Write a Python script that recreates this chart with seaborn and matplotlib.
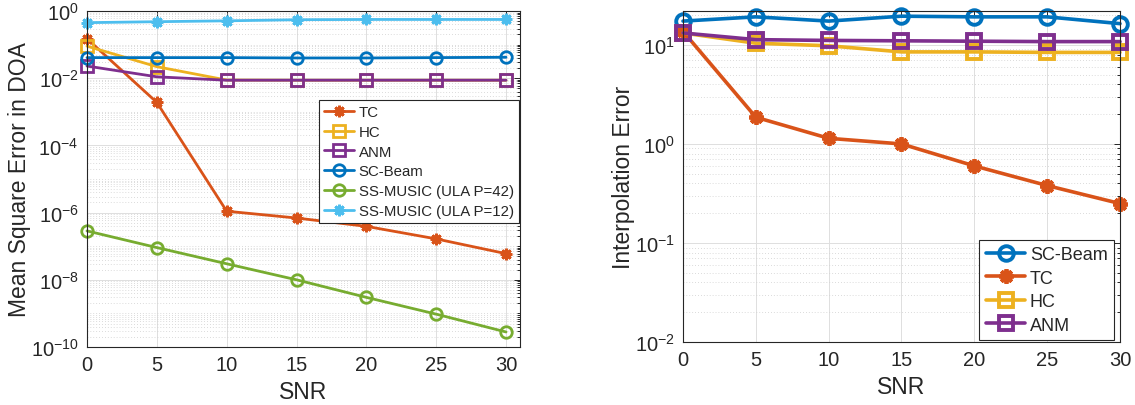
import numpy as np
import pandas as pd
import matplotlib
matplotlib.use("Agg")
import matplotlib.pyplot as plt
from matplotlib.ticker import LogLocator, NullFormatter, FixedLocator
import seaborn as sns

# ---- data -------------------------------------------------------------
snr = [0, 5, 10, 15, 20, 25, 30]

# DOA mean square error
tc_doa = [0.15, 1.9e-3, 1.1e-6, 6.9e-7, 3.9e-7, 1.65e-7, 6.0e-8]
hc_doa = [0.09, 0.022, 0.0088, 0.0087, 0.0087, 0.0087, 0.0087]
anm_doa = [0.023, 0.011, 0.0087, 0.0087, 0.0087, 0.0087, 0.0087]
scbeam_doa = [0.041, 0.041, 0.041, 0.040, 0.040, 0.041, 0.042]
music42_doa = [2.85e-7, 9.1e-8, 3.0e-8, 1.0e-8, 3.0e-9, 9.5e-10, 2.8e-10]
music12_doa = [0.45, 0.48, 0.51, 0.55, 0.56, 0.56, 0.56]

# interpolation error
scbeam_int = [17.4, 19.2, 17.4, 19.5, 19.2, 19.2, 16.4]
tc_int = [13.7, 1.86, 1.14, 1.0, 0.6, 0.38, 0.25]
hc_int = [13.2, 10.4, 9.8, 8.5, 8.5, 8.4, 8.4]
anm_int = [13.2, 11.3, 11.1, 11.0, 10.9, 10.8, 10.8]

# ---- style ------------------------------------------------------------
sns.set_style("white")
plt.rcParams["font.family"] = ["Liberation Sans", "DejaVu Sans"]
plt.rcParams["mathtext.fontset"] = "custom"
plt.rcParams["mathtext.rm"] = "Liberation Sans"
plt.rcParams["mathtext.it"] = "Liberation Sans:italic"
plt.rcParams["mathtext.bf"] = "Liberation Sans:bold"

BLUE = "#0072BD"
ORANGE = "#D95319"
YELLOW = "#EDB120"
PURPLE = "#7E2F8E"
GREEN = "#77AC30"
CYAN = "#4DBEEE"
DARK = "#262626"
ASTERISK = (8, 2, 0)

fig = plt.figure(figsize=(11.35, 4.06), dpi=100)
ax1 = fig.add_axes([87 / 1135, 1 - 348 / 406, 433 / 1135, 336 / 406])
ax2 = fig.add_axes([683 / 1135, 1 - 343 / 406, 437 / 1135, 331 / 406])


def draw(ax, y, color, marker, label, lw, ms, mew):
    df = pd.DataFrame({"SNR": snr, "val": y})
    sns.lineplot(data=df, x="SNR", y="val", ax=ax, color=color, marker=marker,
                 markersize=ms, markeredgewidth=mew, markerfacecolor="none",
                 markeredgecolor=color, linewidth=lw, label=label, clip_on=False)


# left panel
lw1, ms1, mew1 = 2.0, 8.3, 2.0
draw(ax1, tc_doa, ORANGE, ASTERISK, "TC", lw1, ms1, mew1)
draw(ax1, hc_doa, YELLOW, "s", "HC", lw1, ms1, mew1)
draw(ax1, anm_doa, PURPLE, "s", "ANM", lw1, ms1, mew1)
draw(ax1, scbeam_doa, BLUE, "o", "SC-Beam", lw1, ms1, mew1)
draw(ax1, music42_doa, GREEN, "o", "SS-MUSIC (ULA P=42)", lw1, ms1, mew1)
draw(ax1, music12_doa, CYAN, ASTERISK, "SS-MUSIC (ULA P=12)", lw1, ms1, mew1)

# right panel
lw2, ms2, mew2 = 2.6, 10.5, 2.8
draw(ax2, scbeam_int, BLUE, "o", "SC-Beam", lw2, ms2, mew2)
draw(ax2, tc_int, ORANGE, ASTERISK, "TC", lw2, ms2, mew2)
draw(ax2, hc_int, YELLOW, "s", "HC", lw2, ms2, mew2)
draw(ax2, anm_int, PURPLE, "s", "ANM", lw2, ms2, mew2)

for ax, ylim, majors in [
    (ax1, (1e-10, 1.0), [10.0 ** k for k in range(-10, 1, 2)]),
    (ax2, (1e-2, 22.0), [10.0 ** k for k in range(-2, 2)]),
]:
    ax.set_yscale("log")
    ax.set_ylim(*ylim)
    ax.yaxis.set_major_locator(FixedLocator(majors))
    ax.yaxis.set_minor_locator(LogLocator(base=10, subs=np.arange(1, 10), numticks=100))
    ax.yaxis.set_minor_formatter(NullFormatter())
    ax.set_xticks([0, 5, 10, 15, 20, 25, 30])
    ax.grid(True, which="major", color="#dedede", linewidth=0.7, linestyle="-")
    ax.grid(True, which="minor", axis="y", color="#cfcfcf", linewidth=0.6,
            linestyle=(0, (1, 2.5)))
    ax.set_axisbelow(True)
    ax.tick_params(which="both", direction="in", top=True, right=True,
                   colors=DARK, labelsize=14.5, width=0.7, pad=6)
    ax.tick_params(which="major", length=4)
    ax.tick_params(which="minor", length=2.2)
    for sp in ax.spines.values():
        sp.set_color(DARK)
        sp.set_linewidth(0.8)
        sp.set_visible(True)
    ax.set_xlabel("SNR", fontsize=16.5, color=DARK, labelpad=4)

ax1.set_xlim(0, 31)
ax2.set_xlim(0, 30)
ax1.set_ylabel("Mean Square Error in DOA", fontsize=16.5, color=DARK, labelpad=0)
ax2.set_ylabel("Interpolation Error", fontsize=16.5, color=DARK, labelpad=0)

leg1 = ax1.legend(loc="upper right", bbox_to_anchor=(519 / 1135, 1 - 101 / 406),
                  bbox_transform=fig.transFigure, fontsize=10.8, frameon=True,
                  fancybox=False, framealpha=1, edgecolor=DARK, borderaxespad=0,
                  borderpad=0.35, handlelength=2.0, handletextpad=0.3,
                  labelspacing=0.38)
leg1.get_frame().set_linewidth(0.8)

leg2 = ax2.legend(loc="lower right", bbox_to_anchor=(1114 / 1135, 1 - 341 / 406),
                  bbox_transform=fig.transFigure, fontsize=13, frameon=True,
                  fancybox=False, framealpha=1, edgecolor=DARK, borderaxespad=0,
                  borderpad=0.35, handlelength=2.2, handletextpad=0.25,
                  labelspacing=0.36)
leg2.get_frame().set_linewidth(0.8)

fig.savefig("out.png", dpi=100)
